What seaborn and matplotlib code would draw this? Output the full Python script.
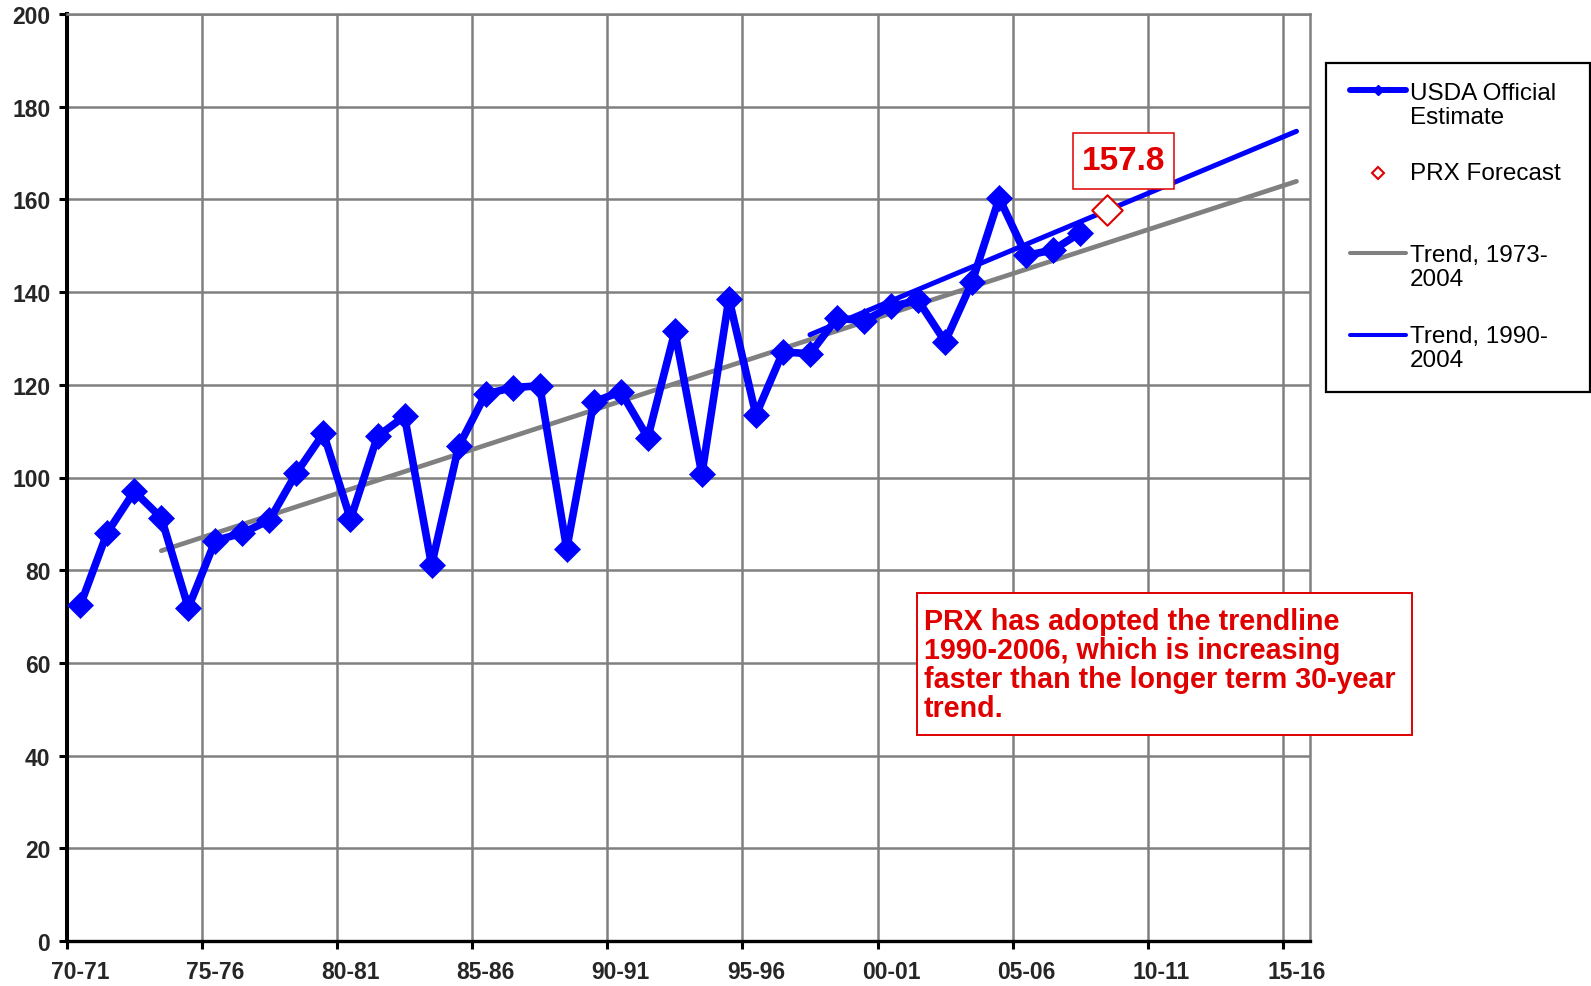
import numpy as np
import pandas as pd
import matplotlib
matplotlib.use('Agg')
import matplotlib.pyplot as plt
import seaborn as sns
from matplotlib.lines import Line2D
from matplotlib.patches import Rectangle

# Dane: plon kukurydzy USDA (bu/acre), sezony 70-71 .. 07-08
years = np.arange(1970, 2008)
usda_yield = [72.4, 88.1, 97.0, 91.3, 71.9, 86.4, 88.0, 90.8, 101.0, 109.5,
              91.0, 108.9, 113.2, 81.1, 106.7, 118.0, 119.4, 119.8, 84.6, 116.3,
              118.5, 108.6, 131.5, 100.7, 138.6, 113.5, 127.1, 126.7, 134.4, 133.8,
              136.9, 138.2, 129.3, 142.2, 160.3, 147.9, 149.1, 152.8]

# Prognoza PRX
forecast_year = [2008]
forecast_value = [157.8]

# Linie trendu
trend_7304_years = [1973, 2015]
trend_7304_vals = [84.2, 163.9]
trend_9004_years = [1997, 2015]
trend_9004_vals = [130.8, 174.7]

# Etykiety osi X
label_years = [1970, 1975, 1980, 1985, 1990, 1995, 2000, 2005, 2010, 2015]
tick_labels = ['70-71', '75-76', '80-81', '85-86', '90-91', '95-96',
               '00-01', '05-06', '10-11', '15-16']

legend_labels = ['USDA Official\nEstimate', 'PRX Forecast',
                 'Trend, 1973-\n2004', 'Trend, 1990-\n2004']
note_text = ('PRX has adopted the trendline\n1990-2006, which is increasing\n'
             'faster than the longer term 30-year\ntrend.')

BLUE = '#0000FF'
GRAY = '#808080'
RED = '#E00000'

sns.set_style('white')
plt.rcParams['font.family'] = ['Liberation Sans', 'DejaVu Sans']

W, H = 1591, 987
fx = lambda px: px / W
fy = lambda py: 1 - py / H

fig = plt.figure(figsize=(W / 100, H / 100), dpi=100)
ax = fig.add_axes([fx(66.7), fy(942), (1310 - 66.7) / W, (942 - 15) / H])

df = pd.DataFrame({'year': years, 'yield': usda_yield})

# Trendy
sns.lineplot(x=trend_7304_years, y=trend_7304_vals, ax=ax, color=GRAY,
             lw=3.4, legend=False, zorder=3)
sns.lineplot(x=trend_9004_years, y=trend_9004_vals, ax=ax, color=BLUE,
             lw=3.6, legend=False, zorder=3)

# Dane USDA
sns.lineplot(data=df, x='year', y='yield', ax=ax, color=BLUE, lw=5.5,
             marker='D', markersize=13.5, mec=BLUE, mew=0.5, legend=False, zorder=4)

# Prognoza
sns.scatterplot(x=forecast_year, y=forecast_value, ax=ax, marker='D', s=240,
                facecolor='white', edgecolor=RED, linewidth=1.5, zorder=5,
                legend=False)

# Osie
ax.set_xlim(1969.5, 2015.5)
ax.set_ylim(0, 200)
ax.set_yticks(range(0, 201, 20))
ax.set_xticks(np.arange(1969.5, 2015, 5))
ax.set_xticklabels([])
ax.set_xticks(label_years, minor=True)
ax.set_xticklabels(tick_labels, minor=True)
ax.set_xlabel('')
ax.set_ylabel('')

ax.tick_params(axis='x', which='major', length=5.8, width=2.2, direction='out',
               color='black', bottom=True)
ax.tick_params(axis='x', which='minor', length=0, pad=14, labelsize=16.5,
               bottom=True)
ax.tick_params(axis='y', length=5.8, width=2.2, direction='out', pad=6,
               labelsize=16.5, color='black', left=True)
for lab in ax.get_xticklabels(minor=True) + ax.get_yticklabels():
    lab.set_fontweight('bold')

ax.grid(True, which='major', color=GRAY, lw=1.8)
ax.set_axisbelow(True)
for side in ['left', 'bottom']:
    ax.spines[side].set_color('black')
ax.spines['left'].set_linewidth(2.9)
ax.spines['bottom'].set_linewidth(2.4)
for side in ['top', 'right']:
    ax.spines[side].set_color(GRAY)
    ax.spines[side].set_linewidth(1.8)

# Etykieta prognozy
fig.add_artist(Rectangle((fx(1073), fy(190)), (1174 - 1073) / W, (190 - 134) / H,
                         transform=fig.transFigure, facecolor='white',
                         edgecolor=RED, lw=1.1, zorder=6))
fig.text(fx(1123.5), fy(170), f'{forecast_value[0]:.1f}', color=RED,
         fontsize=24, fontweight='bold', ha='center', va='baseline', zorder=7)

# Notatka
fig.add_artist(Rectangle((fx(917), fy(736)), (1412 - 917) / W, (736 - 594) / H,
                         transform=fig.transFigure, facecolor='white',
                         edgecolor=RED, lw=1.4, zorder=6))
for i, line in enumerate(note_text.split('\n')):
    fig.text(fx(924), fy(630 + i * 28.9), line, color=RED, fontsize=20.6,
             fontweight='bold', ha='left', va='baseline', zorder=7)

# Legenda
fig.add_artist(Rectangle((fx(1326), fy(393)), (1590 - 1326) / W, (393 - 64) / H,
                         transform=fig.transFigure, facecolor='white',
                         edgecolor='black', lw=1.6, zorder=6))
handle_y = [90.7, 174, 254, 336]
baselines = [100, 180, 261.7, 343]
handles = [dict(color=BLUE, lw=4.3, marker='D', ms=5.5, mfc=BLUE, mec=BLUE, ls='-'),
           dict(color=RED, lw=0, marker='D', ms=6.6, mfc='white', mec=RED, mew=1.5, ls='none'),
           dict(color=GRAY, lw=2.9, ls='-'),
           dict(color=BLUE, lw=2.9, ls='-')]
for hy, bl, lab, hk in zip(handle_y, baselines, legend_labels, handles):
    fig.add_artist(Line2D([fx(1350), fx(1378), fx(1406)], [fy(hy)] * 3,
                          transform=fig.transFigure, markevery=[1], zorder=7, **hk))
    for j, line in enumerate(lab.split('\n')):
        fig.text(fx(1410), fy(bl + j * 24), line, fontsize=17.5, ha='left',
                 va='baseline', color='black', zorder=7)

fig.savefig('out.png', dpi=100)
